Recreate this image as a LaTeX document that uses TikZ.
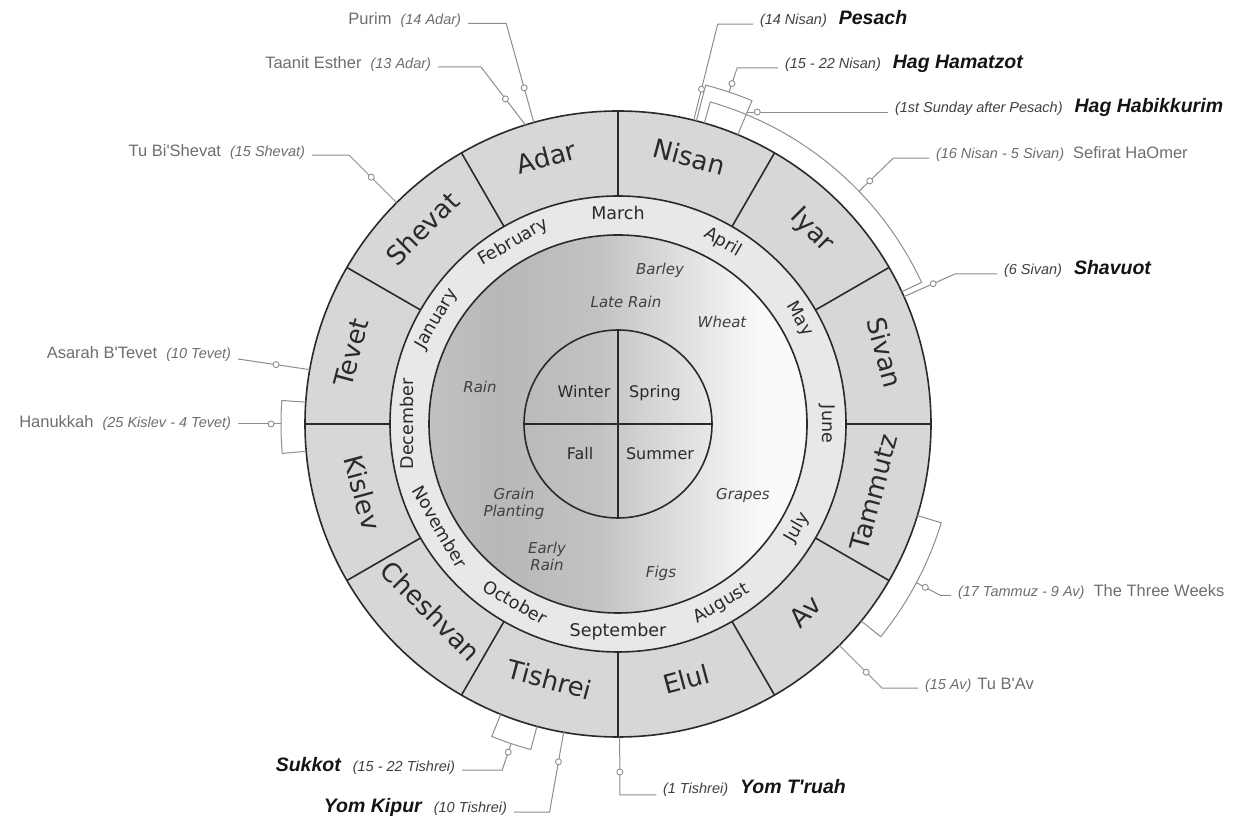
\documentclass[tikz,border=0pt]{standalone}
\usepackage{fontspec}
\setmainfont{DejaVu Sans}
\newfontfamily\annfont{Liberation Sans}
\usetikzlibrary{calc}
\definecolor{hebring}{HTML}{D7D7D7}
\definecolor{gregring}{HTML}{E8E8E8}
\definecolor{linec}{HTML}{2A2A2A}
\definecolor{leadc}{HTML}{8E8E8E}
\definecolor{anngray}{HTML}{6E6E6E}
\definecolor{anndark}{HTML}{404040}
\definecolor{boldc}{HTML}{141414}
\definecolor{sa}{gray}{0.76}
\definecolor{sb}{gray}{0.72}
\definecolor{sc}{gray}{0.76}
\definecolor{sd}{gray}{0.88}
\definecolor{se}{gray}{0.98}
\pgfdeclarehorizontalshading{diskshade}{100bp}{color(0bp)=(sa); color(25bp)=(sa); color(34bp)=(sb); color(47bp)=(sc); color(59bp)=(sd); color(69bp)=(se); color(100bp)=(se)}
\newcommand\evname[1]{\textcolor{anngray}{\fontsize{16.5}{18}\selectfont #1}}
\newcommand\evdate[1]{\textcolor{anngray}{\fontsize{14.5}{18}\selectfont\itshape #1}}
\newcommand\evdated[1]{\textcolor{anndark}{\fontsize{14.5}{18}\selectfont\itshape #1}}
\newcommand\evfeast[1]{\textcolor{boldc}{\fontsize{19.5}{20}\selectfont\bfseries\itshape #1}}
\begin{document}
\begin{tikzpicture}[x=1pt,y=1pt,
  heb/.style={font=\fontsize{26}{26}\selectfont, text=linec, inner sep=0pt, text height=0.73em, text depth=0pt},
  greg/.style={font=\fontsize{17.5}{17.5}\selectfont, text=linec, inner sep=0pt, text height=0.73em, text depth=0pt},
  season/.style={font=\fontsize{16}{16}\selectfont, text=linec, inner sep=0pt, text height=0.73em, text depth=0pt},
  crop/.style={font=\fontsize{15}{17}\selectfont\itshape, text=anndark, inner sep=0pt, align=center},
  ringline/.style={draw=linec, line width=1.6pt},
  lead/.style={draw=leadc, line width=1pt},
  evbox/.style={draw=leadc, line width=1pt},
  mkst/.style={draw=leadc, fill=white, line width=0.9pt},
  annl/.style={inner sep=0pt, outer sep=0pt, outer xsep=7pt, font=\annfont},
]
\fill[white] (0,0) rectangle (1245,818);
\useasboundingbox (0,0) rectangle (1245,818);
\coordinate (O) at (618,394);
% ---- rings
\fill[hebring] (O) circle (313);
\fill[gregring] (O) circle (228);
\shade[shading=diskshade] (O) circle (189);
\foreach \k in {0,30,...,330} \draw[ringline] ($(O)+(\k:228)$) -- ($(O)+(\k:313)$);
\draw[ringline] (O) circle (313) (O) circle (228) (O) circle (189) (O) circle (94);
\draw[ringline] ($(O)+(-94,0)$) -- ($(O)+(94,0)$) ($(O)+(0,-94)$) -- ($(O)+(0,94)$);
% ---- Hebrew months
\foreach \n/\a in {Nisan/75,Iyar/45,Sivan/15,Tammutz/-15,Av/-45,Elul/-75,Tishrei/-105,Cheshvan/-135,Kislev/-165,Tevet/165,Shevat/135,Adar/105}{
  \pgfmathsetmacro\lrot{(\a>=0 && \a<=180) ? \a-90 : \a+90}
  \node[heb, rotate=\lrot] (heb-\n) at ($(O)+(\a:270.5)$) {\n};
}
% ---- Gregorian months
\foreach \n/\a in {March/90,April/60,May/30,June/0,July/-30,August/-60,September/-90,October/-120,November/-150,December/180,January/150,February/120}{
  \pgfmathsetmacro\lrot{(\a>=0 && \a<=180) ? \a-90 : \a+90}
  \node[greg, rotate=\lrot] (greg-\n) at ($(O)+(\a:208.5)$) {\n};
}
% ---- seasons
\node[season] (winter) at (584,424) {Winter};
\node[season] (spring) at (655,424) {Spring};
\node[season] (fall) at (580,362) {Fall};
\node[season] (summer) at (660,362) {Summer};
% ---- crops
\node[crop] (barley) at (660,548) {Barley};
\node[crop] (laterain) at (626,516) {Late Rain};
\node[crop] (wheat) at (722,496) {Wheat};
\node[crop] (rain) at (480,431) {Rain};
\node[crop] (grain) at (514,314) {Grain\\Planting};
\node[crop] (earlyrain) at (547,262) {Early\\Rain};
\node[crop] (figs) at (661,245) {Figs};
\node[crop] (grapes) at (743,322) {Grapes};
% ---- event boxes
\draw[evbox] ($(O)+(74:313)$) -- ($(O)+(74:335)$) arc[start angle=74, end angle=25, radius=335] -- ($(O)+(25:313)$);
\draw[evbox] ($(O)+(75.5:313)$) -- ($(O)+(75.5:350)$) arc[start angle=75.5, end angle=67.5, radius=350] -- ($(O)+(67.5:313)$);
\draw[evbox] ($(O)+(-17:313)$) -- ($(O)+(-17:338)$) arc[start angle=-17, end angle=-39, radius=338] -- ($(O)+(-39:313)$);
\draw[evbox] ($(O)+(-105:313)$) -- ($(O)+(-105:337)$) arc[start angle=-105, end angle=-112, radius=337] -- ($(O)+(-112:313)$);
\draw[evbox] ($(O)+(176:313)$) -- ($(O)+(176:337)$) arc[start angle=176, end angle=185, radius=337] -- ($(O)+(185:313)$);
% ---- left annotations
\node[annl, anchor=base east] (purim) at (468,793) {\evname{Purim}\hspace{9pt}\evdate{(14 Adar)}};
\coordinate (purim-c) at ($(O)+(105.6:313)$);
\coordinate (purim-b) at ($(O)+(105.6:416)$);
\draw[lead] (purim-c) -- (purim-b) -- (purim-b -| purim.east);
\filldraw[mkst] ($(O)+(105.6:349)$) circle (3);

\node[annl, anchor=base east] (taanit) at (438,749) {\evname{Taanit Esther}\hspace{9pt}\evdate{(13 Adar)}};
\coordinate (taanit-c) at ($(O)+(107.2:313)$);
\coordinate (taanit-b) at (481,751);
\draw[lead] (taanit-c) -- (taanit-b) -- (taanit-b -| taanit.east);
\filldraw[mkst] ($(taanit-c)!0.45!(taanit-b)$) circle (3);

\node[annl, anchor=base east] (tubishevat) at (312,661) {\evname{Tu Bi'Shevat}\hspace{9pt}\evdate{(15 Shevat)}};
\coordinate (tubishevat-c) at ($(O)+(135:313)$);
\coordinate (tubishevat-b) at ($(O)+(135:380.4)$);
\draw[lead] (tubishevat-c) -- (tubishevat-b) -- (tubishevat-b -| tubishevat.east);
\filldraw[mkst] ($(O)+(135:349)$) circle (3);

\node[annl, anchor=base east] (asarah) at (238,459) {\evname{Asarah B'Tevet}\hspace{9pt}\evdate{(10 Tevet)}};
\coordinate (asarah-c) at ($(O)+(170:313)$);
\draw[lead] (asarah-c) -- (asarah.base east);
\filldraw[mkst] ($(asarah-c)!0.47!(asarah.base east)$) circle (3);

\node[annl, anchor=base east] (hanukkah) at (238,390) {\evname{Hanukkah}\hspace{9pt}\evdate{(25 Kislev - 4 Tevet)}};
\coordinate (hanukkah-c) at ($(O)+(180:337)$);
\draw[lead] (hanukkah-c) -- (hanukkah-c -| hanukkah.east);
\filldraw[mkst] ($(hanukkah-c)+(-10,0)$) circle (3);

% ---- right annotations
\node[annl, anchor=base west] (pesach) at (753,793) {\evdated{(14 Nisan)}\hspace{12pt}\evfeast{Pesach}};
\coordinate (pesach-c) at ($(O)+(76:313)$);
\coordinate (pesach-b) at ($(O)+(76:412.2)$);
\draw[lead] (pesach-c) -- (pesach-b) -- (pesach-b -| pesach.west);
\filldraw[mkst] ($(O)+(76:345)$) circle (3);

\node[annl, anchor=base west] (matzot) at (778,749) {\evdated{(15 - 22 Nisan)}\hspace{12pt}\evfeast{Hag Hamatzot}};
\coordinate (matzot-c) at ($(O)+(71.5:350)$);
\coordinate (matzot-b) at ($(O)+(71.5:375.5)$);
\draw[lead] (matzot-c) -- (matzot-b) -- (matzot-b -| matzot.west);
\filldraw[mkst] ($(O)+(71.5:359)$) circle (3);

\node[annl, anchor=base west] (bikkurim) at (888,705) {\evdated{(1st Sunday after Pesach)}\hspace{12pt}\evfeast{Hag Habikkurim}};
\coordinate (bikkurim-c) at ($(O)+(67.5:337.7)$);
\draw[lead] (bikkurim-c) -- (bikkurim-c -| bikkurim.west);
\filldraw[mkst] ($(bikkurim-c)+(10,0)$) circle (3);

\node[annl, anchor=base west] (omer) at (929,659) {\evdate{(16 Nisan - 5 Sivan)}\hspace{9pt}\evname{Sefirat HaOmer}};
\coordinate (omer-c) at ($(O)+(44:335)$);
\coordinate (omer-b) at ($(O)+(44:382.9)$);
\draw[lead] (omer-c) -- (omer-b) -- (omer-b -| omer.west);
\filldraw[mkst] ($(O)+(44:350)$) circle (3);

\node[annl, anchor=base west] (shavuot) at (997,543) {\evdated{(6 Sivan)}\hspace{12pt}\evfeast{Shavuot}};
\coordinate (shavuot-c) at ($(O)+(24:313)$);
\coordinate (shavuot-b) at ($(O)+(24:368.8)$);
\draw[lead] (shavuot-c) -- (shavuot-b) -- (shavuot-b -| shavuot.west);
\filldraw[mkst] ($(O)+(24:345)$) circle (3);

\node[annl, anchor=base west] (threeweeks) at (951,221) {\evdate{(17 Tammuz - 9 Av)}\hspace{9pt}\evname{The Three Weeks}};
\coordinate (threeweeks-c) at ($(O)+(-28:338)$);
\coordinate (threeweeks-b) at ($(O)+(-28:365)$);
\draw[lead] (threeweeks-c) -- (threeweeks-b) -- (threeweeks-b -| threeweeks.west);
\filldraw[mkst] ($(O)+(-28:348)$) circle (3);

\node[annl, anchor=base west] (tubav) at (918,128) {\evdate{(15 Av)}\hspace{6pt}\evname{Tu B'Av}};
\coordinate (tubav-c) at ($(O)+(-45:313)$);
\coordinate (tubav-b) at ($(O)+(-45:373.4)$);
\draw[lead] (tubav-c) -- (tubav-b) -- (tubav-b -| tubav.west);
\filldraw[mkst] ($(O)+(-45:351)$) circle (3);

% ---- bottom annotations
\node[annl, anchor=base west] (yomtruah) at (656,24) {\evdated{(1 Tishrei)}\hspace{12pt}\evfeast{Yom T'ruah}};
\coordinate (yomtruah-c) at ($(O)+(-89.7:313)$);
\coordinate (yomtruah-b) at ($(O)+(-89.7:371)$);
\draw[lead] (yomtruah-c) -- (yomtruah-b) -- (yomtruah-b -| yomtruah.west);
\filldraw[mkst] ($(O)+(-89.7:348)$) circle (3);

\node[annl, anchor=base east] (yomkipur) at (514,5) {\evfeast{Yom Kipur}\hspace{12pt}\evdated{(10 Tishrei)}};
\coordinate (yomkipur-c) at ($(O)+(-100:313)$);
\coordinate (yomkipur-b) at ($(O)+(-100:394)$);
\draw[lead] (yomkipur-c) -- (yomkipur-b) -- (yomkipur-b -| yomkipur.east);
\filldraw[mkst] ($(O)+(-100:343)$) circle (3);

\node[annl, anchor=base east] (sukkot) at (462,46) {\evfeast{Sukkot}\hspace{12pt}\evdated{(15 - 22 Tishrei)}};
\coordinate (sukkot-c) at ($(O)+(-108.5:337)$);
\coordinate (sukkot-b) at ($(O)+(-108.5:365)$);
\draw[lead] (sukkot-c) -- (sukkot-b) -- (sukkot-b -| sukkot.east);
\filldraw[mkst] ($(O)+(-108.5:346)$) circle (3);
\end{tikzpicture}
\end{document}
